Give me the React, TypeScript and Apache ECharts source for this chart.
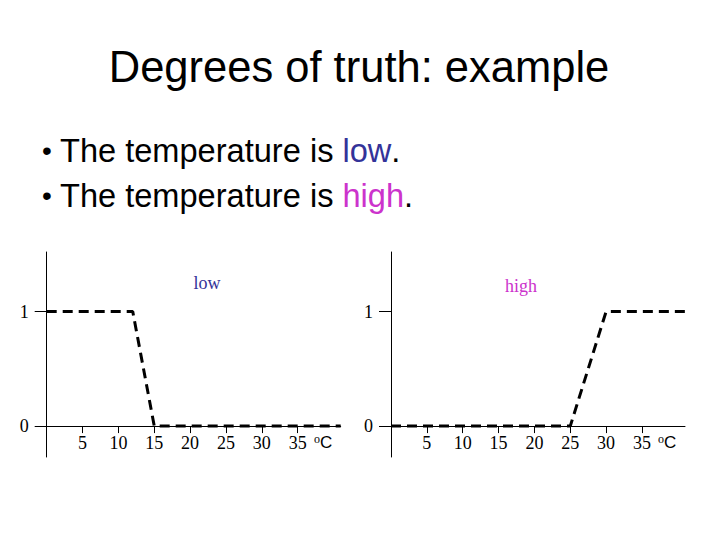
import React, { useEffect, useRef } from "react";
import * as echarts from "echarts";

// Data
const lowX = [0, 12, 15, 41];
const lowY = [1, 1, 0, 0];
const highX = [0, 25, 30, 41];
const highY = [0, 0, 1, 1];
const xTicks = [5, 10, 15, 20, 25, 30, 35];
const yTicks = [0, 1];
const chartNames = ["low", "high"];

const SANS = "Liberation Sans, Arial, sans-serif";
const SERIF = "Liberation Serif, Times New Roman, serif";
const LOW_COLOR = "#333399";
const HIGH_COLOR = "#cc33cc";

function mainX(grid: number) {
  return {
    type: "value",
    gridIndex: grid,
    min: 0,
    max: 41,
    splitLine: { show: false },
    axisLine: { show: true, onZero: true, onZeroAxisIndex: grid, lineStyle: { color: "#000", width: 1 } },
    axisTick: { show: true, customValues: xTicks, length: 7, lineStyle: { color: "#000", width: 1 } },
    axisLabel: {
      show: true,
      customValues: xTicks,
      fontFamily: SERIF,
      fontSize: 18,
      color: "#000",
      margin: -23,
    },
  };
}

function innerX(grid: number) {
  return {
    type: "value",
    gridIndex: grid,
    min: 0,
    max: 41,
    splitLine: { show: false },
    axisLine: { show: false, onZero: true, onZeroAxisIndex: grid },
    axisTick: { show: true, inside: true, customValues: xTicks, length: 6, lineStyle: { color: "#000", width: 1 } },
    axisLabel: { show: false },
  };
}

function yAx(grid: number) {
  return {
    type: "value",
    gridIndex: grid,
    min: -0.27,
    max: 1.52,
    splitLine: { show: false },
    axisLine: { show: true, onZero: false, lineStyle: { color: "#000", width: 1 } },
    axisTick: { show: true, customValues: yTicks, length: 12, lineStyle: { color: "#000", width: 1 } },
    axisLabel: {
      show: true,
      customValues: yTicks,
      fontFamily: SERIF,
      fontSize: 18,
      color: "#000",
      margin: 18,
      verticalAlign: "middle",
      padding: [0, 0, 10, 0],
    },
  };
}

function bulletLine(y: number, word: string, color: string) {
  return [
    {
      type: "text",
      x: 47,
      y: y,
      style: {
        text: "\u2022",
        fontFamily: SANS,
        fontSize: 28,
        fill: "#000",
        align: "center",
        verticalAlign: "middle",
        textAlign: "center",
        textVerticalAlign: "middle",
      },
    },
    {
      type: "text",
      x: 60,
      y: y,
      style: {
        text: "{n|The temperature is }{c|" + word + "}{n|.}",
        fontFamily: SANS,
        fontSize: 32.6,
        fill: "#000",
        align: "left",
        verticalAlign: "middle",
        textAlign: "left",
        textVerticalAlign: "middle",
        rich: {
          n: { fontFamily: SANS, fontSize: 32.6, fill: "#000", color: "#000" },
          c: { fontFamily: SANS, fontSize: 32.6, fill: color, color: color },
        },
      },
    },
  ];
}

function unitLabel(x: number) {
  return {
    type: "text",
    x: x,
    y: 442,
    style: {
      text: "{o|o}{c|C}",
      fontFamily: SERIF,
      fontSize: 18,
      fill: "#000",
      align: "left",
      verticalAlign: "middle",
      textAlign: "left",
      textVerticalAlign: "middle",
      rich: {
        o: { fontFamily: SERIF, fontSize: 12, fill: "#000", color: "#000", verticalAlign: "top", lineHeight: 18, padding: [0, 0, 6, 0] },
        c: { fontFamily: SANS, fontSize: 17, fill: "#000", color: "#000", lineHeight: 18 },
      },
    },
  };
}

function chartTitle(x: number, y: number, text: string, color: string) {
  return {
    type: "text",
    x: x,
    y: y,
    style: {
      text: text,
      fontFamily: SERIF,
      fontSize: 18,
      fill: color,
      align: "center",
      verticalAlign: "middle",
      textAlign: "center",
      textVerticalAlign: "middle",
    },
  };
}

export default function App() {
  const ref = useRef<HTMLDivElement>(null);

  useEffect(() => {
    if (!ref.current) return;
    const chart = echarts.init(ref.current, undefined, { renderer: "svg" });
    const lineStyle = { color: "#000", width: 3, type: [10, 6] as any };
    const option: any = {
      animation: false,
      backgroundColor: "#fff",
      grid: [
        { left: 46.7, top: 252, width: 294, height: 205 },
        { left: 391, top: 252, width: 294, height: 205 },
      ],
      xAxis: [mainX(0), innerX(0), mainX(1), innerX(1)],
      yAxis: [yAx(0), yAx(1)],
      series: [
        {
          name: chartNames[0],
          type: "line",
          xAxisIndex: 0,
          yAxisIndex: 0,
          data: lowX.map((x, i) => [x, lowY[i]]),
          symbol: "none",
          clip: false,
          lineStyle,
          silent: true,
        },
        {
          name: chartNames[1],
          type: "line",
          xAxisIndex: 2,
          yAxisIndex: 1,
          data: highX.map((x, i) => [x, highY[i]]),
          symbol: "none",
          clip: false,
          lineStyle,
          silent: true,
        },
      ],
      graphic: [
        {
          type: "text",
          x: 359,
          y: 67,
          style: {
            text: "Degrees of truth: example",
            fontFamily: SANS,
            fontSize: 43.5,
            fill: "#000",
            align: "center",
            verticalAlign: "middle",
            textAlign: "center",
            textVerticalAlign: "middle",
          },
        },
        ...bulletLine(150, "low", LOW_COLOR),
        ...bulletLine(195, "high", HIGH_COLOR),
        chartTitle(207, 283, chartNames[0], LOW_COLOR),
        chartTitle(521, 286, chartNames[1], HIGH_COLOR),
        unitLabel(314),
        unitLabel(658),
      ],
    };
    chart.setOption(option);
    return () => chart.dispose();
  }, []);

  return (
    <div
      ref={ref}
      style={{ position: "fixed", left: 0, top: 0, width: 720, height: 540, background: "#fff" }}
    />
  );
}
